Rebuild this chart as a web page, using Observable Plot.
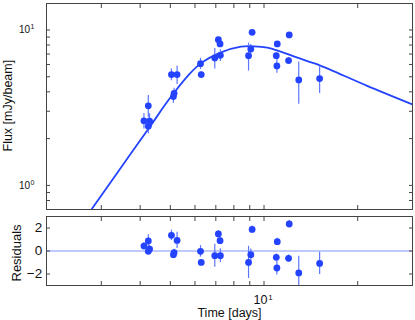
<!DOCTYPE html>
<html><head><meta charset="utf-8">
<script src="https://cdn.jsdelivr.net/npm/d3@7"></script>
<script src="https://cdn.jsdelivr.net/npm/@observablehq/plot@0.6"></script>
<style>
body{margin:0;background:#fff;}
#chart{position:relative;width:415px;height:320px;overflow:hidden;background:#fff;}
#chart svg{position:absolute;left:0;}
</style></head><body><div id="chart"></div>
<script>
// Observations (time in days, flux in mJy/beam, 1-sigma error, residual)
const times = [4.113, 4.248, 4.289, 4.248, 5.041, 5.256, 5.141, 5.115, 6.251, 6.284, 6.947, 7.133, 7.223, 7.240, 9.157, 9.07, 8.918, 11.03, 10.95, 11.0, 12.05, 11.99, 12.93, 15.09];
const flux = [2.603, 3.25, 2.588, 2.403, 5.164, 5.164, 3.915, 3.728, 6.074, 5.164, 6.61, 8.664, 8.131, 6.869, 9.65, 7.551, 6.838, 8.131, 6.838, 5.873, 9.288, 6.354, 4.774, 4.866];
const fluxErr = [0.3, 0.54, 0.3, 0.25, 0.45, 0.7, 0.3, 0.35, 0.5, 0.2, 1.0, 0.3, 0.3, 0.6, 0.3, 0.5, 1.4, 0.3, 0.3, 0.6, 0.3, 0.3, 1.45, 0.97];
const resid = [0.43, 0.87, 0.17, -0.03, 1.36, 0.92, -0.15, -0.32, -0.03, -0.99, -0.41, 1.48, 0.9, -0.41, 1.88, -0.32, -0.99, 0.81, -0.55, -1.48, 2.35, -0.64, -1.91, -1.08];
// Model curve
const curveT = [2.80, 3.49, 4.35, 4.92, 5.70, 6.28, 7.28, 8.43, 9.29, 10.25, 11.30, 12.46, 13.92, 15.17, 21.36, 30];
const curveF = [0.708, 1.324, 2.469, 3.514, 5.09, 6.12, 7.178, 7.812, 7.848, 7.694, 7.254, 6.768, 6.257, 5.898, 4.389, 3.32];
// Ticks and labels
const xTicks = [3, 4, 5, 6, 7, 8, 9, 10, 20];
const xLabelTicks = [10];
const yTicksTop = [0.8, 0.9, 1, 2, 3, 4, 5, 6, 7, 8, 9, 10];
const yLabelTicksTop = [1, 10];
const resTicks = [-2, 0, 2];
const xDomain = [2, 30];
const yDomainTop = [0.7, 14.8];
const yDomainRes = [-3, 3];
const yTitleTop = "Flux [mJy/beam]";
const yTitleRes = "Residuals";
const xTitle = "Time [days]";

const blue = "#2443ff";
const errBlue = "#5d78ff";
const zeroBlue = "#7f96ff";
const frameC = "#444";
const font = "'Liberation Sans', Arial, Helvetica, sans-serif";

const obs = times.map((t, i) => ({t, f: flux[i], e: fluxErr[i], r: resid[i]}));
const model = curveT.map((t, i) => ({t, f: curveF[i]}));

function ticksAll(yt) {
  const o = {tickSize: 4, tickFormat: () => "", label: null, stroke: frameC};
  return [
    Plot.axisX(xTicks, {...o, anchor: "bottom", dy: -4}),
    Plot.axisX(xTicks, {...o, anchor: "top", dy: 4}),
    Plot.axisY(yt, {...o, anchor: "left", dx: 4}),
    Plot.axisY(yt, {...o, anchor: "right", dx: -4})
  ];
}

const topPlot = Plot.plot({
  width: 415, height: 212,
  marginTop: 3, marginBottom: 3, marginLeft: 46, marginRight: 3,
  style: {fontFamily: font, background: "transparent", color: "#111", overflow: "visible"},
  x: {type: "log", domain: xDomain},
  y: {type: "log", domain: yDomainTop},
  marks: [
    Plot.line(model, {x: "t", y: "f", stroke: blue, strokeWidth: 1.8, curve: "catmull-rom", clip: true}),
    Plot.ruleX(obs, {x: "t", y1: d => d.f - d.e, y2: d => d.f + d.e, stroke: errBlue, strokeWidth: 1.2, clip: true}),
    Plot.dot(obs, {x: "t", y: "f", r: 3.4, fill: blue}),
    ...ticksAll(yTicksTop),
    Plot.frame({stroke: frameC}),
    Plot.text(yLabelTicksTop, {y: d => d, frameAnchor: "left", text: () => "10", textAnchor: "end", dx: -16.5, fontSize: 10, fill: "#111"}),
    Plot.text(yLabelTicksTop, {y: d => d, frameAnchor: "left", text: d => String(Math.round(Math.log10(d))), textAnchor: "start", dx: -16, dy: -3, fontSize: 7, fill: "#111"})
  ]
});

const botPlot = Plot.plot({
  width: 415, height: 107,
  marginTop: 3, marginBottom: 35, marginLeft: 46, marginRight: 3,
  style: {fontFamily: font, background: "transparent", color: "#111", overflow: "visible"},
  x: {type: "log", domain: xDomain},
  y: {domain: yDomainRes},
  marks: [
    Plot.ruleY([0], {stroke: zeroBlue, strokeWidth: 1}),
    Plot.ruleX(obs, {x: "t", y1: d => d.r - d.e, y2: d => d.r + d.e, stroke: errBlue, strokeWidth: 1.2, clip: true}),
    Plot.dot(obs, {x: "t", y: "r", r: 3.4, fill: blue}),
    ...ticksAll(resTicks),
    Plot.frame({stroke: frameC}),
    Plot.text(resTicks, {y: d => d, frameAnchor: "left", text: d => d < 0 ? "\u2212" + Math.abs(d) : String(d), textAnchor: "end", dx: -4.3, fontSize: 13.5, fill: "#111"}),
    Plot.text(xLabelTicks, {x: d => d, frameAnchor: "bottom", text: () => "10", textAnchor: "middle", lineAnchor: "bottom", dx: -3.5, dy: 18.5, fontSize: 12.5, fill: "#111"}),
    Plot.text(xLabelTicks, {x: d => d, frameAnchor: "bottom", text: d => String(Math.round(Math.log10(d))), textAnchor: "start", lineAnchor: "bottom", dx: 4.2, dy: 14, fontSize: 8, fill: "#111"}),
    Plot.text([xTitle], {frameAnchor: "bottom", text: d => d, textAnchor: "middle", lineAnchor: "bottom", dy: 31.5, fontSize: 12.5, fill: "#111"})
  ]
});

// Rotated axis titles: text starts at the bottom end (yStart) and reads upward
function addYTitle(svg, label, x, yStart, size) {
  d3.select(svg).append("text")
    .attr("transform", `translate(${x},${yStart}) rotate(-90)`)
    .attr("text-anchor", "start")
    .attr("dy", "0.32em")
    .attr("fill", "#111")
    .attr("font-size", size)
    .text(label);
}
addYTitle(topPlot, yTitleTop, 8.4, 151.5, 12.5);
addYTitle(botPlot, yTitleRes, 17.3, 68.5, 13);

const chart = document.getElementById("chart");
topPlot.style.top = "0px";
botPlot.style.top = "213px";
chart.appendChild(topPlot);
chart.appendChild(botPlot);
</script>
</body></html>
